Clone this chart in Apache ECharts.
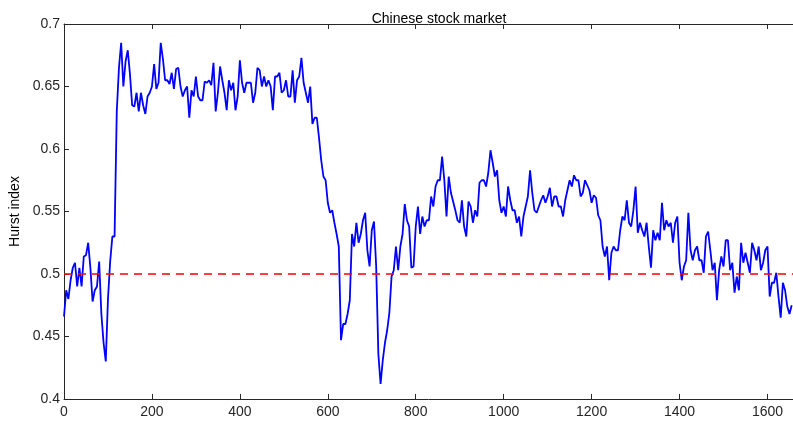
<!DOCTYPE html>
<html>
<head>
<meta charset="utf-8">
<script src="https://cdn.jsdelivr.net/npm/echarts@6/dist/echarts.min.js"></script>
<style>html,body{margin:0;padding:0;background:#fff;}#c{width:793px;height:424px;}</style>
</head>
<body>
<div id="c"></div>
<script>
// Sampling of the Hurst index series: x = xStart + i * xStep
const xStart = 0;
const xStep = 5;
// values, in consecutive stretches
const hurst0to285 = [0.466,0.487,0.480,0.495,0.505,0.509,0.490,0.505,0.490,0.514,0.515,0.525,0.505,0.478,0.487,0.490,0.510,0.468,0.445,0.430,0.480,0.510,0.530,0.530,0.630,0.665,0.685,0.650,0.670,0.679,0.660,0.635,0.634,0.645,0.630,0.645,0.635,0.628,0.642,0.645,0.650,0.668,0.648,0.653,0.685,0.672,0.655,0.655,0.652,0.661,0.648,0.664,0.665,0.650,0.642,0.647,0.650,0.625];
const hurst290to560 = [0.647,0.642,0.658,0.642,0.639,0.639,0.654,0.653,0.655,0.651,0.669,0.630,0.645,0.666,0.655,0.645,0.631,0.655,0.647,0.653,0.631,0.642,0.671,0.653,0.645,0.653,0.653,0.653,0.637,0.645,0.665,0.663,0.650,0.658,0.650,0.655,0.650,0.631,0.658,0.658,0.661,0.645,0.647,0.655,0.642,0.642,0.663,0.637,0.655,0.658,0.673,0.653,0.645,0.637,0.650];
const hurst565to850 = [0.620,0.625,0.625,0.609,0.591,0.578,0.575,0.557,0.549,0.551,0.541,0.532,0.522,0.447,0.460,0.460,0.468,0.479,0.532,0.522,0.541,0.525,0.532,0.543,0.549,0.519,0.506,0.535,0.542,0.506,0.436,0.412,0.431,0.445,0.455,0.469,0.498,0.503,0.522,0.503,0.522,0.532,0.556,0.543,0.538,0.505,0.506,0.538,0.554,0.532,0.546,0.538,0.543,0.543,0.562,0.554,0.570,0.575];
const hurst855to1120 = [0.575,0.594,0.575,0.546,0.578,0.565,0.558,0.551,0.543,0.541,0.559,0.538,0.530,0.558,0.554,0.541,0.551,0.546,0.573,0.575,0.575,0.570,0.581,0.599,0.589,0.578,0.583,0.559,0.549,0.554,0.546,0.570,0.559,0.551,0.551,0.541,0.546,0.530,0.546,0.554,0.562,0.583,0.565,0.551,0.549,0.554,0.559,0.563,0.557,0.562,0.569,0.554,0.562,0.562];
const hurst1125to1400 = [0.554,0.554,0.546,0.559,0.567,0.575,0.570,0.579,0.575,0.575,0.562,0.565,0.575,0.571,0.567,0.557,0.563,0.561,0.547,0.543,0.522,0.514,0.522,0.495,0.517,0.522,0.519,0.519,0.535,0.546,0.543,0.559,0.541,0.538,0.551,0.570,0.533,0.541,0.535,0.530,0.541,0.522,0.505,0.535,0.527,0.533,0.527,0.557,0.535,0.543,0.538,0.541,0.525,0.541,0.546,0.509];
const hurst1405to1655 = [0.495,0.506,0.511,0.549,0.519,0.511,0.519,0.522,0.511,0.511,0.501,0.530,0.534,0.519,0.503,0.509,0.479,0.503,0.514,0.506,0.527,0.527,0.503,0.509,0.485,0.498,0.487,0.525,0.509,0.517,0.509,0.501,0.525,0.519,0.511,0.522,0.503,0.509,0.519,0.522,0.482,0.493,0.493,0.501,0.482,0.465,0.493,0.487,0.474,0.468,0.475];
// reference level line
const refX = [0, 1658];
const refY = [0.5, 0.5];
// axis ticks
const xTicks = [0, 200, 400, 600, 800, 1000, 1200, 1400, 1600];
const yTicks = [0.4, 0.45, 0.5, 0.55, 0.6, 0.65, 0.7];
const titleText = 'Chinese stock market';
const yName = 'Hurst index';

const hurst = [].concat(hurst0to285, hurst290to560, hurst565to850, hurst855to1120, hurst1125to1400, hurst1405to1655);
const lineData = hurst.map((v, i) => [xStart + i * xStep, v]);
const refData = refX.map((x, i) => [x, refY[i]]);

const axisColor = '#262626';
const font = 'Liberation Sans, Arial, Helvetica, sans-serif';
const chart = echarts.init(document.getElementById('c'), null, {renderer: 'canvas'});
chart.setOption({
  animation: false,
  backgroundColor: '#ffffff',
  title: {
    text: titleText, left: 434, top: 7, textAlign: 'center',
    textStyle: {fontSize: 14, fontWeight: 'normal', color: '#000', fontFamily: font}
  },
  grid: {left: 64, top: 24, bottom: 25, right: 0, containLabel: false, outerBoundsMode: 'none'},
  xAxis: [{
    type: 'value', min: 0, max: 1658, interval: 200,
    axisLine: {show: true, lineStyle: {color: axisColor, width: 1}},
    axisTick: {show: true, inside: true, length: 5, lineStyle: {color: axisColor}},
    axisLabel: {margin: 6, color: axisColor, fontSize: 14, fontFamily: font,
      formatter: v => xTicks.indexOf(v) >= 0 ? String(v) : ''},
    splitLine: {show: false}
  }, {
    type: 'value', position: 'top', min: 0, max: 1658, interval: 200,
    axisLine: {show: true, lineStyle: {color: axisColor, width: 1}},
    axisTick: {show: true, inside: true, length: 5, lineStyle: {color: axisColor}},
    axisLabel: {show: false}, splitLine: {show: false}
  }],
  yAxis: {
    type: 'value', min: 0.4, max: 0.7, interval: 0.05,
    name: yName, nameLocation: 'middle', nameGap: 37, nameRotate: 90,
    nameTextStyle: {fontSize: 14, color: '#000', fontFamily: font},
    axisLine: {show: true, lineStyle: {color: axisColor, width: 1}},
    axisTick: {show: true, inside: true, length: 5, lineStyle: {color: axisColor}},
    axisLabel: {margin: 4, color: axisColor, fontSize: 14, fontFamily: font,
      formatter: v => { const r = Math.round(v * 100) / 100; return yTicks.indexOf(r) >= 0 ? String(r) : ''; }},
    splitLine: {show: false}
  },
  series: [{
    type: 'line', data: lineData, showSymbol: false, symbol: 'none',
    lineStyle: {color: '#0000FF', width: 1.8}, itemStyle: {color: '#0000FF'}, z: 2
  }, {
    type: 'line', data: refData, showSymbol: false, symbol: 'none',
    lineStyle: {color: '#FF0000', width: 1.5, type: [8, 6]}, itemStyle: {color: '#FF0000'}, z: 3
  }]
});
</script>
</body>
</html>
